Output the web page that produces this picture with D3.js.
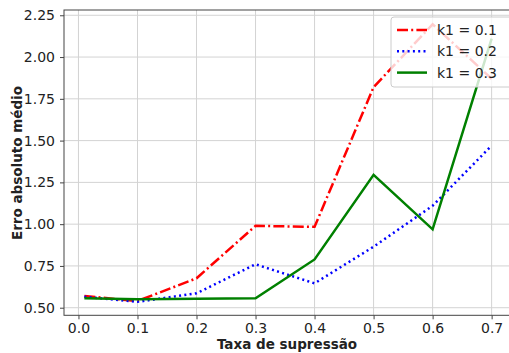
<!DOCTYPE html>
<html>
<head>
<meta charset="utf-8">
<script src="https://cdn.jsdelivr.net/npm/d3@7.9.0/dist/d3.min.js"></script>
<style>
  body { margin: 0; background: white; }
  text { font-family: "DejaVu Sans", sans-serif; fill: #222; }
</style>
</head>
<body>
<svg id="chart" width="509" height="353"></svg>
<script>
// taxa de supressao (x) and error series
const rates = [0.01, 0.1, 0.2, 0.3, 0.4, 0.5, 0.6, 0.7];
const k1_01 = [0.57, 0.54, 0.676, 0.99, 0.984, 1.82, 2.196, 1.87];
const k1_02 = [0.565, 0.535, 0.586, 0.76, 0.646, 0.865, 1.11, 1.47];
const k1_03 = [0.556, 0.55, 0.553, 0.556, 0.789, 1.295, 0.969, 2.11];
const seriesNames = ['k1 = 0.1', 'k1 = 0.2', 'k1 = 0.3'];
const xTicks = [0.0, 0.1, 0.2, 0.3, 0.4, 0.5, 0.6, 0.7];
const yTicks = [0.50, 0.75, 1.00, 1.25, 1.50, 1.75, 2.00, 2.25];

const svg = d3.select('#chart');
const mLeft = 64, mTop = 10, mRight = 512, mBottom = 315.3;

const x = d3.scaleLinear().domain([-0.0245, 0.7345]).range([mLeft, mRight]);
const y = d3.scaleLinear().domain([0.4546, 2.2816]).range([mBottom, mTop]);

// grid
svg.append('g')
  .selectAll('line')
  .data(xTicks)
  .join('line')
  .attr('x1', d => x(d)).attr('x2', d => x(d))
  .attr('y1', mTop).attr('y2', mBottom)
  .attr('stroke', '#d3d3d3').attr('stroke-width', 1);

svg.append('g')
  .selectAll('line')
  .data(yTicks)
  .join('line')
  .attr('x1', mLeft).attr('x2', mRight)
  .attr('y1', d => y(d)).attr('y2', d => y(d))
  .attr('stroke', '#d3d3d3').attr('stroke-width', 1);

// axes
const xAxis = svg.append('g')
  .attr('transform', `translate(0,${mBottom})`)
  .call(d3.axisBottom(x).tickValues(xTicks).tickFormat(d3.format('.1f')).tickSize(4).tickPadding(4));
const yAxis = svg.append('g')
  .attr('transform', `translate(${mLeft},0)`)
  .call(d3.axisLeft(y).tickValues(yTicks).tickFormat(d3.format('.2f')).tickSize(4).tickPadding(5));

[xAxis, yAxis].forEach(a => {
  a.selectAll('.domain').remove();
  a.selectAll('.tick line').attr('stroke', '#444');
  a.selectAll('.tick text').style('font-size', '14px').style('font-family', '"DejaVu Sans", sans-serif').attr('fill', '#222');
});

// frame
svg.append('rect')
  .attr('x', mLeft).attr('y', mTop)
  .attr('width', mRight - mLeft).attr('height', mBottom - mTop)
  .attr('fill', 'none').attr('stroke', '#444').attr('stroke-width', 1);

// lines
const styles = [
  { data: k1_01, color: 'red', dash: '11,3.2,2,3.2' },
  { data: k1_02, color: 'blue', dash: '2,3.3' },
  { data: k1_03, color: 'green', dash: null }
];

const line = d3.line()
  .x((d, i) => x(rates[i]))
  .y(d => y(d));

styles.forEach(s => {
  svg.append('path')
    .datum(s.data)
    .attr('d', line)
    .attr('fill', 'none')
    .attr('stroke', s.color)
    .attr('stroke-width', 2.5)
    .attr('stroke-dasharray', s.dash);
});

// legend
const lg = svg.append('g').attr('transform', 'translate(391,17)');
lg.append('rect')
  .attr('x', 0).attr('y', 0).attr('width', 130).attr('height', 70)
  .attr('rx', 3)
  .attr('fill', 'white').attr('fill-opacity', 0.8)
  .attr('stroke', '#ccc').attr('stroke-width', 1);

styles.forEach((s, i) => {
  const yy = 13 + i * 21.3;
  lg.append('line')
    .attr('x1', 6).attr('x2', 36)
    .attr('y1', yy).attr('y2', yy)
    .attr('stroke', s.color).attr('stroke-width', 2.5)
    .attr('stroke-dasharray', s.dash);
  lg.append('text')
    .attr('x', 46).attr('y', yy)
    .attr('dy', '0.35em')
    .style('font-size', '14px')
    .text(seriesNames[i]);
});

// axis labels
svg.append('text')
  .attr('x', 287).attr('y', 349)
  .attr('text-anchor', 'middle')
  .style('font-size', '13.5px').style('font-weight', 'bold')
  .text('Taxa de supressão');

svg.append('text')
  .attr('transform', `translate(21.5,163) rotate(-90)`)
  .attr('text-anchor', 'middle')
  .style('font-size', '13.5px').style('font-weight', 'bold')
  .text('Erro absoluto médio');
</script>
</body>
</html>
